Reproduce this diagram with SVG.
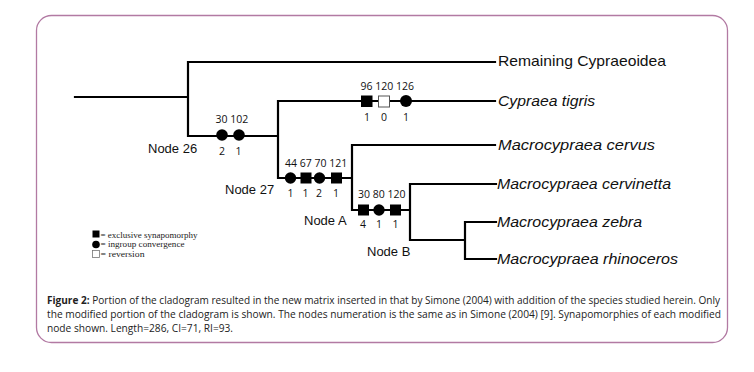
<svg xmlns="http://www.w3.org/2000/svg" width="754" height="372" viewBox="0 0 754 372">
<style>
.br{stroke:#000;stroke-width:2.2;fill:none;stroke-linecap:square}
.sq{fill:#000}
.osq{fill:#fff;stroke:#555;stroke-width:1}
.dot{fill:#000}
.num{font-family:"Open Sans",sans-serif;font-size:10.5px;fill:#111}
.node{font-family:"Liberation Sans",Arial,sans-serif;font-size:13px;fill:#111}
.tax{font-family:"Liberation Sans",Arial,sans-serif;font-size:14.5px;fill:#111}
.it{font-style:italic}
.leg{font-family:"Liberation Serif","Times New Roman",serif;font-size:8.5px;fill:#222}
.cap{font-family:"Open Sans",sans-serif;font-size:10.5px;fill:#222}
</style>
<rect x="36.5" y="15.5" width="691" height="327" rx="15" ry="15" fill="#fff" stroke="#b27aa3" stroke-width="1.3"/>
<g id="connectors">
<path class="br" d="M75 97 H188 M188 62 V136 M188 62 H495 M188 136 H278 M278 101 V178 M278 101 H495 M278 178 H352 M352 145 V210 M352 145 H495 M352 210 H410 M410 184 V240 M410 184 H496 M410 240 H465 M465 222 V259 M465 222 H496 M465 259 H496"/>
</g>
<g id="node26">
<circle class="dot" cx="222" cy="135" r="5.8"/>
<circle class="dot" cx="239" cy="135" r="5.8"/>
<text class="num" x="215.5" y="123">30 102</text>
<text class="num" x="219" y="155">2</text>
<text class="num" x="235.5" y="155">1</text>
<text class="node" x="148" y="153">Node 26</text>
</g>
<g id="tigris-marks">
<rect class="sq" x="361" y="95.5" width="11.5" height="11.5"/>
<rect class="osq" x="378.5" y="96" width="11" height="11"/>
<circle class="dot" cx="406" cy="101" r="6"/>
<text class="num" x="360.5" y="90">96 120 126</text>
<text class="num" x="364" y="121">1</text>
<text class="num" x="381" y="121">0</text>
<text class="num" x="403" y="121">1</text>
</g>
<g id="node27">
<circle class="dot" cx="290.5" cy="178" r="5.7"/>
<rect class="sq" x="300.5" y="172.5" width="11" height="11"/>
<circle class="dot" cx="319.5" cy="178" r="5.7"/>
<rect class="sq" x="331" y="172.5" width="11" height="11"/>
<text class="num" x="285" y="167">44 67 70 121</text>
<text class="num" x="287.5" y="197">1</text>
<text class="num" x="302.5" y="197">1</text>
<text class="num" x="316" y="197">2</text>
<text class="num" x="333" y="197">1</text>
<text class="node" x="225" y="194">Node 27</text>
</g>
<g id="nodeA">
<rect class="sq" x="358" y="204.5" width="11" height="11"/>
<circle class="dot" cx="379" cy="210" r="5.7"/>
<rect class="sq" x="390" y="204.5" width="11" height="11"/>
<text class="num" x="358" y="198">30 80 120</text>
<text class="num" x="360" y="228">4</text>
<text class="num" x="376" y="228">1</text>
<text class="num" x="392.5" y="228">1</text>
<text class="node" x="304" y="225">Node A</text>
</g>
<g id="nodeB">
<text class="node" x="367" y="256">Node B</text>
</g>
<g id="taxa" xml:space="preserve">
<text class="tax" x="498" y="66" textLength="168" lengthAdjust="spacingAndGlyphs">Remaining  Cypraeoidea</text>
<text class="tax it" x="498" y="106" textLength="97" lengthAdjust="spacingAndGlyphs">Cypraea tigris</text>
<text class="tax it" x="498" y="150" textLength="157" lengthAdjust="spacingAndGlyphs">Macrocypraea  cervus</text>
<text class="tax it" x="497" y="189" textLength="174" lengthAdjust="spacingAndGlyphs">Macrocypraea cervinetta</text>
<text class="tax it" x="497" y="227" textLength="145" lengthAdjust="spacingAndGlyphs">Macrocypraea zebra</text>
<text class="tax it" x="497" y="264" textLength="181" lengthAdjust="spacingAndGlyphs">Macrocypraea rhinoceros</text>
</g>
<g id="legend">
<rect class="sq" x="92.5" y="230.5" width="7" height="7"/>
<text class="leg" x="100.5" y="237.5" textLength="97" lengthAdjust="spacingAndGlyphs">= exclusive synapomorphy</text>
<circle class="dot" cx="96" cy="244.5" r="3.8"/>
<text class="leg" x="100.5" y="247" textLength="84" lengthAdjust="spacingAndGlyphs">= ingroup convergence</text>
<rect x="92.5" y="250.5" width="7" height="7" fill="#fff" stroke="#777" stroke-width="0.8"/>
<text class="leg" x="100.5" y="256.5" textLength="44" lengthAdjust="spacingAndGlyphs">= reversion</text>
</g>
<g id="caption">
<text class="cap" x="47" y="304" textLength="673" lengthAdjust="spacingAndGlyphs"><tspan font-weight="bold">Figure 2:</tspan> Portion of the cladogram resulted in the new matrix inserted in that by Simone (2004) with addition of the species studied herein. Only</text>
<text class="cap" x="47" y="318" textLength="674" lengthAdjust="spacingAndGlyphs">the modified portion of the cladogram is shown. The nodes numeration is the same as in Simone (2004) [9]. Synapomorphies of each modified</text>
<text class="cap" x="47" y="332" textLength="186" lengthAdjust="spacingAndGlyphs">node shown. Length=286, CI=71, RI=93.</text>
</g>
</svg>
